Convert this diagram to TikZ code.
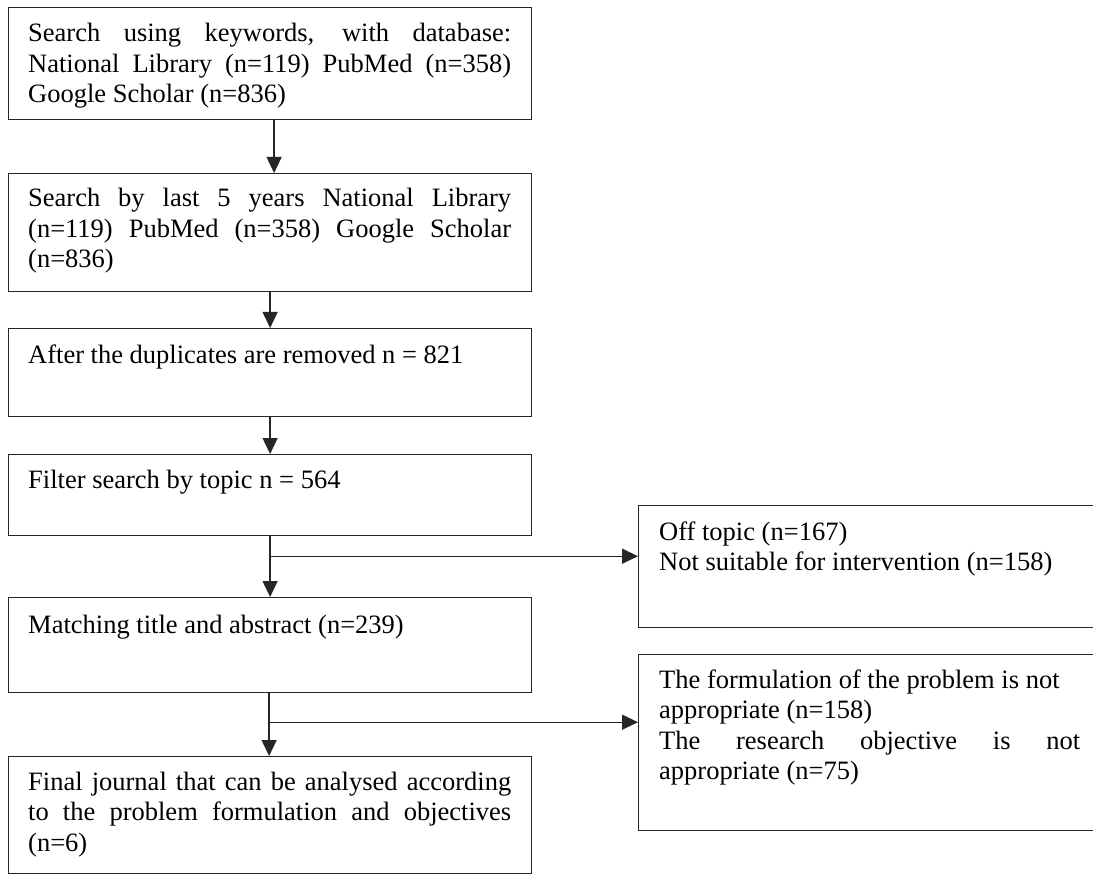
\documentclass[tikz,border=0pt]{standalone}
\usepackage{fontspec}
\setmainfont{Liberation Serif}
\usetikzlibrary{arrows.meta,positioning,calc}
\newcommand{\jline}[1]{\makebox[\linewidth][s]{#1}}
\tikzset{
  boxst/.style={draw=black!85, line width=1.2pt, rectangle, inner sep=0pt, anchor=north west},
  txt/.style={inner sep=0pt, anchor=base west, font=\fontsize{26.5}{30.5}\selectfont},
  conn/.style={draw=black!85, line width=1.3pt},
  arr/.style={conn, -{Triangle[length=16pt,width=15pt]}}
}
\begin{document}
\begin{tikzpicture}[x=1pt,y=-1pt]
\useasboundingbox (0,0) rectangle (1093,877);
\clip (0,0) rectangle (1093,877);
% left column boxes
\node[boxst, minimum width=523pt, minimum height=112pt] (b1) at (8,7) {};
\node[boxst, minimum width=523pt, minimum height=118pt] (b2) at (8,173) {};
\node[boxst, minimum width=523pt, minimum height=88pt] (b3) at (8,328) {};
\node[boxst, minimum width=523pt, minimum height=81pt] (b4) at (8,454) {};
\node[boxst, minimum width=523pt, minimum height=95pt] (b5) at (8,597) {};
\node[boxst, minimum width=523pt, minimum height=117pt] (b6) at (8,756) {};
% right boxes (cut by the page edge)
\node[boxst, minimum width=480pt, minimum height=122pt] (r1) at (638,505) {};
\node[boxst, minimum width=480pt, minimum height=176pt] (r2) at (638,654) {};
% texts
\node[txt] (t1) at ($(b1.north west)+(20,35)$) {\parbox[t]{483pt}{%
\jline{Search using keywords, with database:}\\
\jline{National Library (n=119) PubMed (n=358)}\\
Google Scholar (n=836)}};
\node[txt] (t2) at ($(b2.north west)+(20,34)$) {\parbox[t]{483pt}{%
\jline{Search by last 5 years National Library}\\
\jline{(n=119) PubMed (n=358) Google Scholar}\\
(n=836)}};
\node[txt] (t3) at ($(b3.north west)+(20,35)$) {After the duplicates are removed n = 821};
\node[txt] (t4) at ($(b4.north west)+(20,34)$) {Filter search by topic n = 564};
\node[txt] (t5) at ($(b5.north west)+(20,36)$) {Matching title and abstract (n=239)};
\node[txt] (t6) at ($(b6.north west)+(20,34)$) {\parbox[t]{483pt}{%
\jline{Final journal that can be analysed according}\\
\jline{to the problem formulation and objectives}\\
(n=6)}};
\node[txt] (t7) at ($(r1.north west)+(21,35)$) {\parbox[t]{440pt}{%
Off topic (n=167)\\
Not suitable for intervention (n=158)}};
\node[txt] (t8) at ($(r2.north west)+(21,34)$) {\parbox[t]{421pt}{%
The formulation of the problem is not\\
appropriate (n=158)\\
\jline{The research objective is not}\\
appropriate (n=75)}};
% connectors
\draw[arr] ([xshift=4pt]b1.south) -- ([xshift=4pt]b2.north);
\draw[arr] (b2.south) -- (b3.north);
\draw[arr] (b3.south) -- (b4.north);
\draw[arr] (b4.south) -- (b5.north);
\draw[arr] ([xshift=-1pt]b5.south) -- ([xshift=-1pt]b6.north);
\coordinate (j1) at ($(b4.south)+(0,20)$);
\coordinate (j2) at ($(b5.south)+(-1,29)$);
\draw[arr] (j1) -- (j1 -| r1.west);
\draw[arr] (j2) -- (j2 -| r2.west);
\end{tikzpicture}
\end{document}
